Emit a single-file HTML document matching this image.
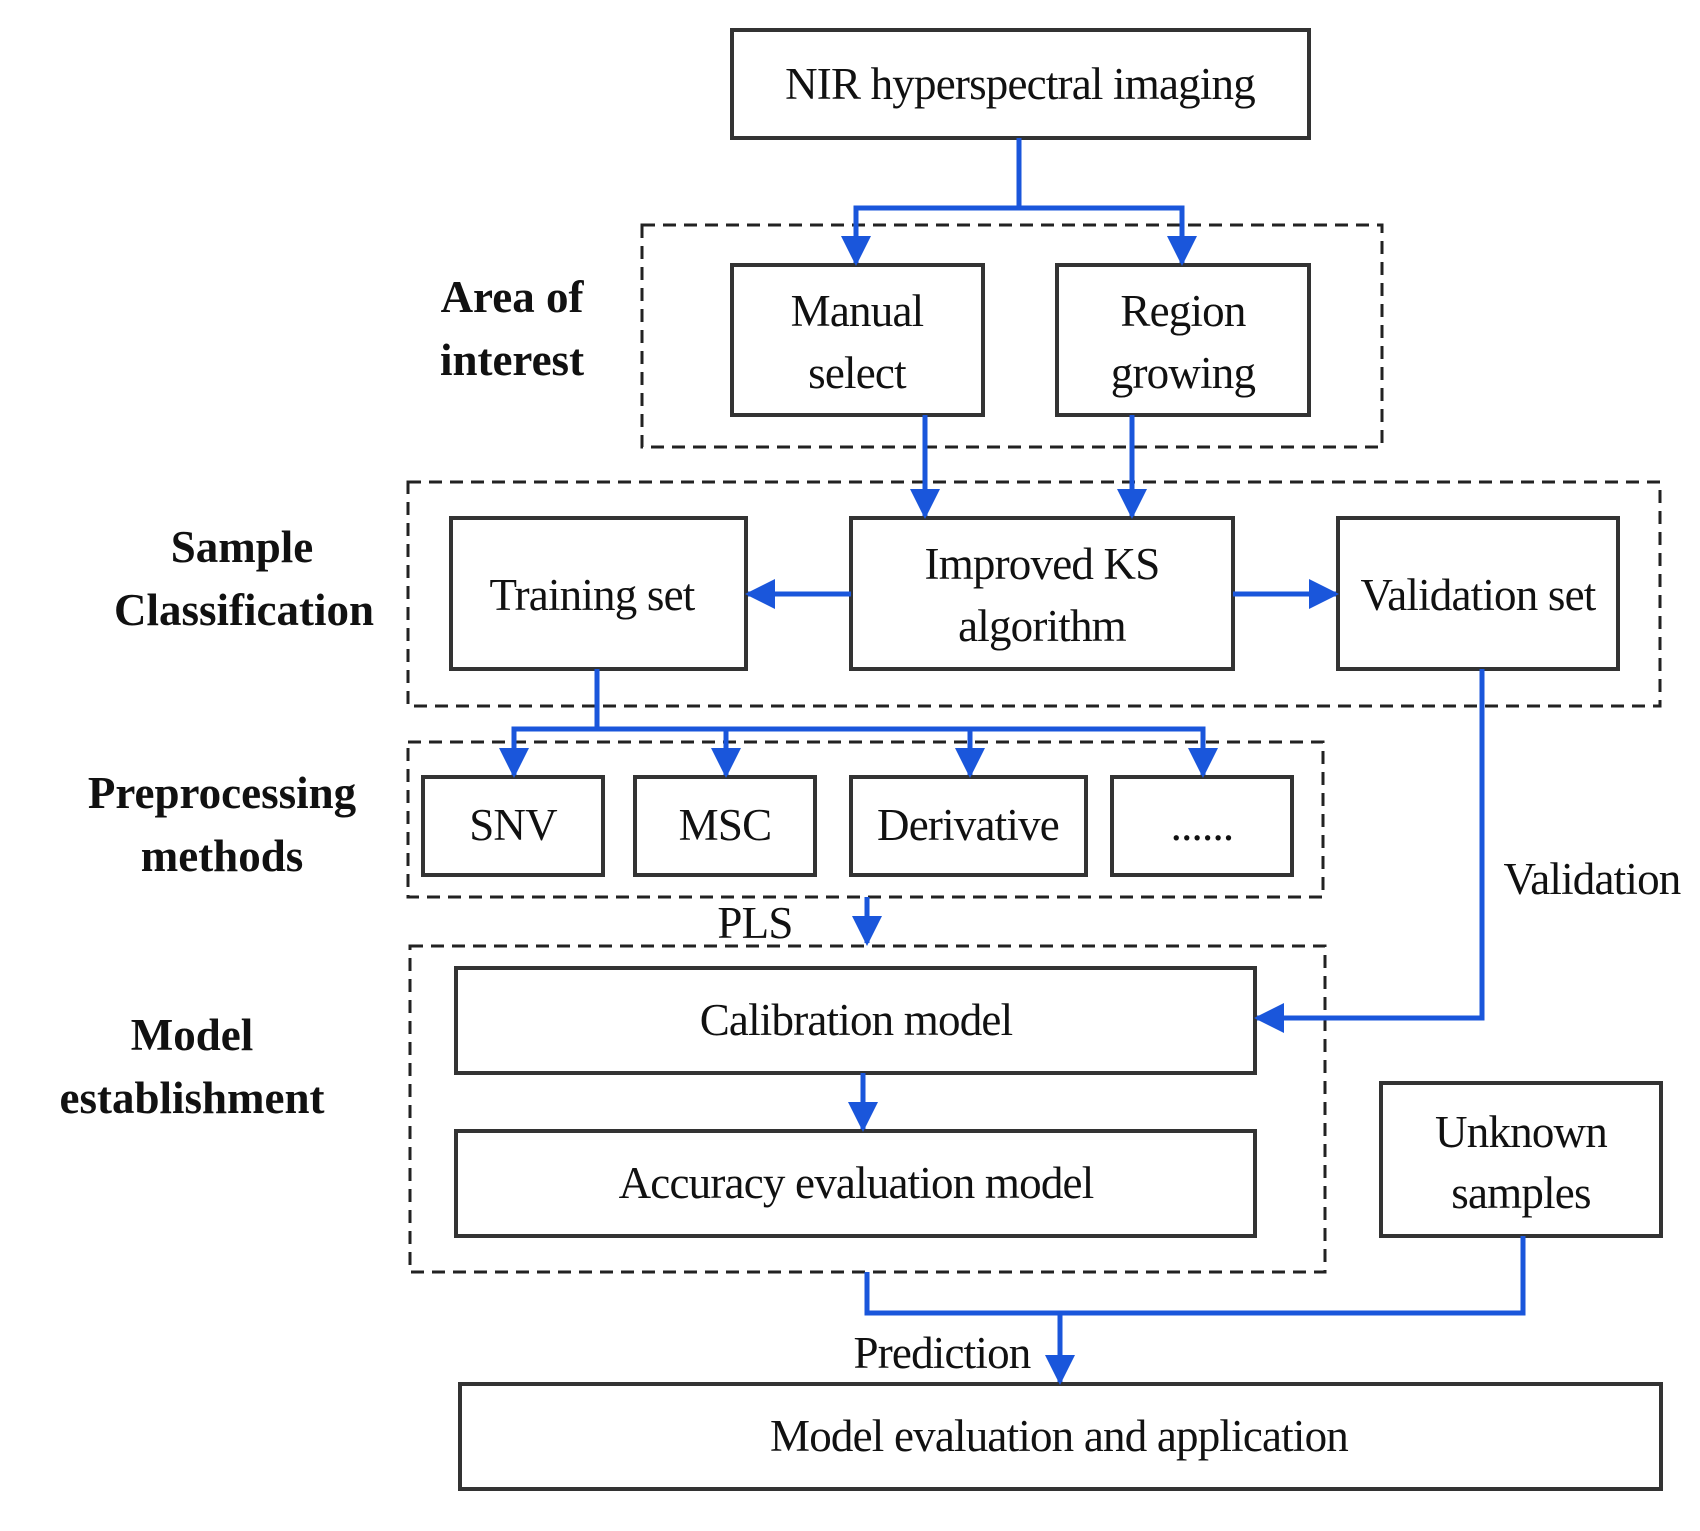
<!DOCTYPE html>
<html><head><meta charset="utf-8"><style>
html,body{margin:0;padding:0;background:#fff;}
svg text{font-family:"Liberation Serif",serif;fill:#111;}
</style></head><body>
<svg width="1700" height="1526" viewBox="0 0 1700 1526" xmlns="http://www.w3.org/2000/svg">
<defs>
<marker id="a" viewBox="0 0 10 10" refX="9" refY="5" markerWidth="6" markerHeight="6" markerUnits="strokeWidth" orient="auto"><path d="M0,0 L10,5 L0,10 z" fill="#1a56db"/></marker>
</defs>
<g fill="none" stroke="#222" stroke-width="3" stroke-dasharray="13,8">
<rect x="642" y="225" width="740" height="222"/>
<rect x="408" y="482" width="1252" height="224"/>
<rect x="408" y="742" width="915" height="155"/>
<rect x="410" y="946" width="915" height="326"/>
</g>
<g fill="#fff" stroke="#333" stroke-width="4">
<rect x="732" y="30" width="577" height="108"/>
<rect x="732" y="265" width="251" height="150"/>
<rect x="1057" y="265" width="252" height="150"/>
<rect x="451" y="518" width="295" height="151"/>
<rect x="851" y="518" width="382" height="151"/>
<rect x="1338" y="518" width="280" height="151"/>
<rect x="423" y="777" width="180" height="98"/>
<rect x="635" y="777" width="180" height="98"/>
<rect x="851" y="777" width="235" height="98"/>
<rect x="1112" y="777" width="180" height="98"/>
<rect x="456" y="968" width="799" height="105"/>
<rect x="456" y="1131" width="799" height="105"/>
<rect x="1381" y="1083" width="280" height="153"/>
<rect x="460" y="1384" width="1201" height="105"/>
</g>
<g fill="none" stroke="#1a56db" stroke-width="5">
<path d="M1019,138 V208 H856 V263" marker-end="url(#a)"/>
<path d="M1019,208 H1182 V263" marker-end="url(#a)"/>
<path d="M925,415 V516" marker-end="url(#a)"/>
<path d="M1132,415 V516" marker-end="url(#a)"/>
<path d="M851,594 H748" marker-end="url(#a)"/>
<path d="M1233,594 H1336" marker-end="url(#a)"/>
<path d="M597,669 V729 H514 V775" marker-end="url(#a)"/>
<path d="M597,729 H1203 V775" marker-end="url(#a)"/>
<path d="M726,729 V775" marker-end="url(#a)"/>
<path d="M970,729 V775" marker-end="url(#a)"/>
<path d="M867,897 V943" marker-end="url(#a)"/>
<path d="M863,1073 V1129" marker-end="url(#a)"/>
<path d="M1482,669 V1018 H1257" marker-end="url(#a)"/>
<path d="M867,1272 V1313 H1523 V1236"/>
<path d="M1060,1313 V1382" marker-end="url(#a)"/>
</g>
<g font-size="45" text-anchor="middle" letter-spacing="-0.8">
<text x="1020" y="99">NIR hyperspectral imaging</text>
<text x="857" y="326">Manual</text><text x="857" y="388">select</text>
<text x="1183" y="326">Region</text><text x="1183" y="388">growing</text>
<text x="592" y="610">Training set</text>
<text x="1042" y="579">Improved KS</text><text x="1042" y="641">algorithm</text>
<text x="1478" y="610">Validation set</text>
<text x="513" y="840">SNV</text>
<text x="725" y="840">MSC</text>
<text x="968" y="840">Derivative</text>
<text x="1202" y="840">......</text>
<text x="755" y="938">PLS</text>
<text x="856" y="1035">Calibration model</text>
<text x="856" y="1198">Accuracy evaluation model</text>
<text x="1521" y="1147">Unknown</text><text x="1521" y="1208">samples</text>
<text x="1592" y="894">Validation</text>
<text x="942" y="1368">Prediction</text>
<text x="1059" y="1451">Model evaluation and application</text>
</g>
<g font-size="45" font-weight="bold" text-anchor="middle">
<text x="512" y="312">Area of</text><text x="512" y="375">interest</text>
<text x="242" y="562">Sample</text><text x="244" y="625">Classification</text>
<text x="222" y="808">Preprocessing</text><text x="222" y="871">methods</text>
<text x="192" y="1050">Model</text><text x="192" y="1113">establishment</text>
</g>
</svg>
</body></html>
